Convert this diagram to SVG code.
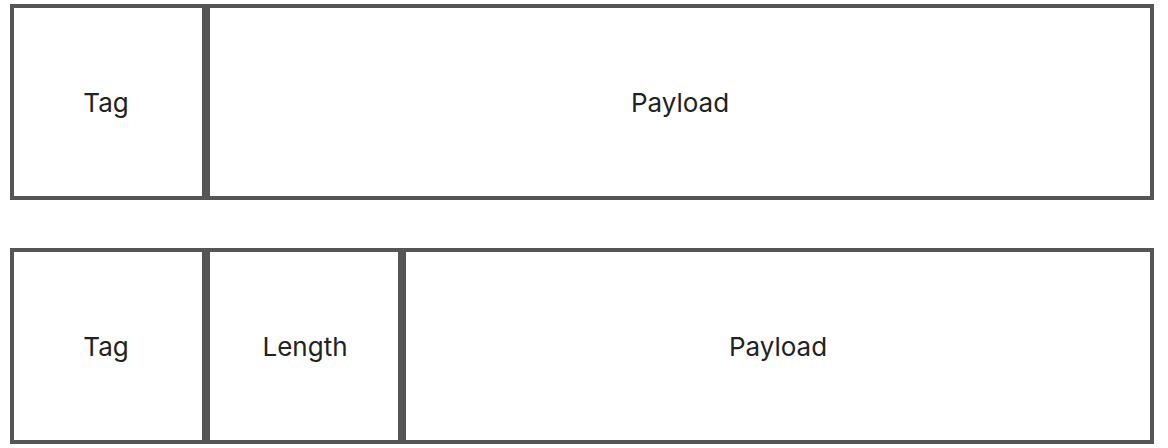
<svg xmlns="http://www.w3.org/2000/svg" width="1168" height="448" viewBox="0 0 1168 448">
<style>
.box{fill:#fff;stroke:#555;stroke-width:4}
.lbl{font-family:Inter,"Noto Sans",sans-serif;font-size:26px;fill:#222;text-anchor:middle;dominant-baseline:central}
</style>
<rect width="1168" height="448" fill="#fff"/>
<g id="row1-tag"><rect class="box" x="12" y="6" width="192" height="192"/><text class="lbl" x="106" y="102">Tag</text></g>
<g id="row1-payload"><rect class="box" x="208" y="6" width="944" height="192"/><text class="lbl" x="680" y="102">Payload</text></g>
<g id="row2-tag"><rect class="box" x="12" y="250" width="192" height="192"/><text class="lbl" x="106" y="346">Tag</text></g>
<g id="row2-length"><rect class="box" x="208" y="250" width="192" height="192"/><text class="lbl" x="305" y="346">Length</text></g>
<g id="row2-payload"><rect class="box" x="404" y="250" width="748" height="192"/><text class="lbl" x="778" y="346">Payload</text></g>
<g id="connectors"></g>
</svg>
